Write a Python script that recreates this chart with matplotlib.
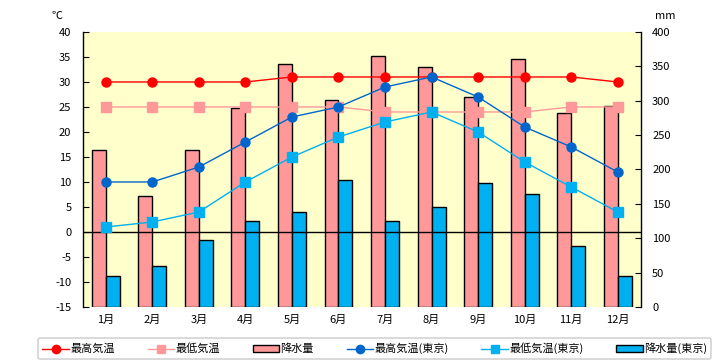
import matplotlib
matplotlib.use("Agg")
import matplotlib.pyplot as plt
import numpy as np
from matplotlib.lines import Line2D
from matplotlib.patches import Patch

plt.rcParams['font.family'] = ['Noto Sans CJK JP', 'DejaVu Sans']
plt.rcParams['axes.unicode_minus'] = False

months = ['1月', '2月', '3月', '4月', '5月', '6月', '7月', '8月', '9月', '10月', '11月', '12月']
max_temp = [30, 30, 30, 30, 31, 31, 31, 31, 31, 31, 31, 30]
min_temp = [25, 25, 25, 25, 25, 25, 24, 24, 24, 24, 25, 25]
precip = [228, 162, 229, 290, 353, 301, 365, 349, 306, 360, 282, 292]
tokyo_max = [10, 10, 13, 18, 23, 25, 29, 31, 27, 21, 17, 12]
tokyo_min = [1, 2, 4, 10, 15, 19, 22, 24, 20, 14, 9, 4]
tokyo_precip = [45, 59, 98, 125, 138, 184, 125, 146, 180, 164, 88, 45]

c_red = '#FF0000'
c_pink = '#FF9999'
c_blue = '#0066CC'
c_cyan = '#00B0F0'
bg = '#FFFFCC'

fig = plt.figure(figsize=(7.2, 3.6), dpi=100)
ax = fig.add_axes([0.1146, 0.1472, 0.7757, 0.764])
ax2 = ax.twinx()
ax.set_zorder(ax2.get_zorder() + 1)
ax.patch.set_visible(False)
ax2.patch.set_visible(True)
ax2.patch.set_facecolor(bg)

x = np.arange(len(months))
w = 0.3
ax2.bar(x - w / 2, precip, width=w, color=c_pink, edgecolor='black', linewidth=1)
ax2.bar(x + w / 2, tokyo_precip, width=w, color=c_cyan, edgecolor='black', linewidth=1)
ax2.set_ylim(0, 400)
ax2.set_yticks(np.arange(0, 401, 50))

ax.axhline(0, color='black', linewidth=1, zorder=1)
ax.plot(x, max_temp, color=c_red, marker='o', markersize=6.5, linewidth=1, zorder=3)
ax.plot(x, min_temp, color=c_pink, marker='s', markersize=6.5, linewidth=1, zorder=3)
ax.plot(x, tokyo_max, color=c_blue, marker='o', markersize=6.5, linewidth=1, zorder=3)
ax.plot(x, tokyo_min, color=c_cyan, marker='s', markersize=6.5, linewidth=1, zorder=3)
ax.set_ylim(-15, 40)
ax.set_yticks(np.arange(-15, 41, 5))
ax.set_xlim(-0.5, len(months) - 0.5)
ax.set_xticks(x)
ax.set_xticklabels(months)

for a in (ax, ax2):
    a.spines['top'].set_visible(False)
    a.spines['bottom'].set_visible(False)
    a.tick_params(axis='y', direction='in', length=4, labelsize=8)
    a.tick_params(axis='x', length=0, labelsize=8, pad=6)
ax.spines['left'].set_linewidth(1)
ax2.spines['right'].set_linewidth(1)
ax.spines['right'].set_visible(False)
ax2.spines['left'].set_visible(False)
ax.tick_params(axis='y', pad=8)
ax2.tick_params(axis='y', pad=8)

fig.text(0.079, 0.955, '℃', fontsize=8, ha='center', va='center')
fig.text(0.924, 0.955, 'mm', fontsize=8, ha='center', va='center')

handles = [
    Line2D([], [], color=c_red, marker='o', markersize=6, linewidth=1),
    Line2D([], [], color=c_pink, marker='s', markersize=6, linewidth=1),
    Patch(facecolor=c_pink, edgecolor='black', linewidth=1),
    Line2D([], [], color=c_blue, marker='o', markersize=6, linewidth=1),
    Line2D([], [], color=c_cyan, marker='s', markersize=6, linewidth=1),
    Patch(facecolor=c_cyan, edgecolor='black', linewidth=1),
]
labels = ['最高気温', '最低気温', '降水量', '最高気温(東京)', '最低気温(東京)', '降水量(東京)']
leg = fig.legend(handles, labels, loc='lower center', bbox_to_anchor=(0.5205, 0.0), ncol=6,
                 fontsize=8, frameon=True, fancybox=True, edgecolor='#C8C8C8',
                 handlelength=2.4, handleheight=0.5, columnspacing=2.95, handletextpad=0.1,
                 borderpad=0.4, labelspacing=0.2, borderaxespad=0.1)
leg.get_frame().set_linewidth(1.2)

fig.savefig('out.png', dpi=100, facecolor='white')
